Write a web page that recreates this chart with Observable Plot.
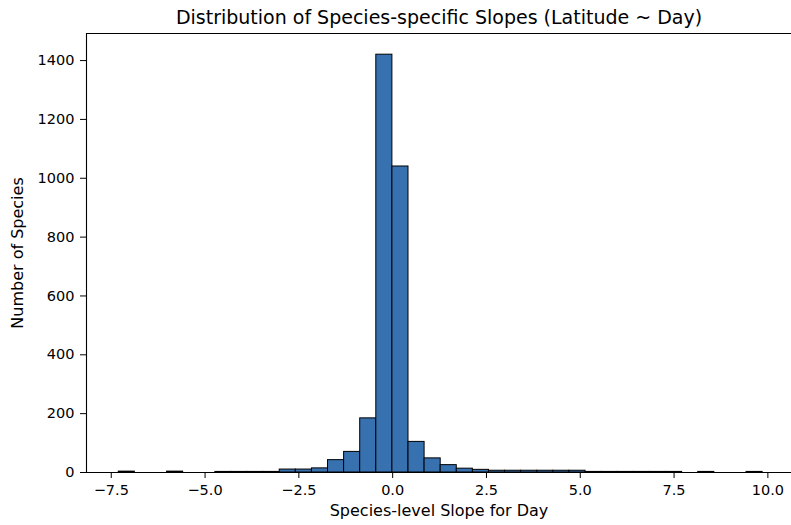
<!DOCTYPE html>
<html>
<head>
<meta charset="utf-8">
<script src="https://cdn.jsdelivr.net/npm/d3@7"></script>
<script src="https://cdn.jsdelivr.net/npm/@observablehq/plot@0.6"></script>
<style>
  html, body { margin: 0; padding: 0; background: #fff; }
  #chart svg { display: block; }
</style>
</head>
<body>
<div id="chart"></div>
<script>
// Histogram: 40 equal bins between data min and max
const dataMin = -7.30;
const dataMax = 9.86;
const counts = [3, 0, 0, 3, 0, 0, 2, 2, 2, 2,
                10, 10, 14, 42, 70, 184, 1420, 1040, 104, 48,
                25, 13, 9, 6, 6, 6, 6, 6, 6, 2,
                2, 2, 2, 2, 2, 0, 2, 0, 0, 2];
const xTicks = [-7.5, -5.0, -2.5, 0.0, 2.5, 5.0, 7.5, 10.0];
const yTicks = [0, 200, 400, 600, 800, 1000, 1200, 1400];
const titleText = "Distribution of Species-specific Slopes (Latitude ~ Day)";
const xLabel = "Species-level Slope for Day";
const yLabel = "Number of Species";

const nBins = counts.length;
const binW = (dataMax - dataMin) / nBins;
const bins = counts.map((c, i) => ({x1: dataMin + i * binW, x2: dataMin + (i + 1) * binW, count: c}));

const xDomain = [-8.16, 10.63];
const yDomain = [0, 1492];
const font = "DejaVu Sans, sans-serif";
const fmt = d => d.toFixed(1).replace("-", "\u2212");

const chart = Plot.plot({
  width: 791,
  height: 525,
  marginLeft: 86,
  marginRight: 0,
  marginTop: 33,
  marginBottom: 53,
  style: {fontFamily: font, fontSize: "14.5px", color: "#000", background: "#fff"},
  x: {domain: xDomain},
  y: {domain: yDomain},
  marks: [
    Plot.rectY(bins, {x1: "x1", x2: "x2", y: "count", fill: "#3871b0", stroke: "#000", strokeWidth: 1}),
    Plot.ruleY([yDomain[0]], {stroke: "#000", strokeWidth: 1.1}),
    Plot.ruleY([yDomain[1]], {stroke: "#000", strokeWidth: 1.1}),
    Plot.ruleX([xDomain[0]], {stroke: "#000", strokeWidth: 1.1}),
    Plot.axisX({ticks: xTicks, tickFormat: fmt, tickSize: 6, tickPadding: 6, fontSize: 14.5, label: null}),
    Plot.axisY({ticks: yTicks, tickFormat: d => String(d), tickSize: 6, tickPadding: 6, fontSize: 14.5, label: null}),
    Plot.text([titleText], {frameAnchor: "top", lineAnchor: "bottom", dy: -10, fontSize: 19, fill: "#000"}),
    Plot.text([xLabel], {frameAnchor: "bottom", lineAnchor: "top", dy: 32, fontSize: 16, fill: "#000"}),
    Plot.text([yLabel], {frameAnchor: "left", textAnchor: "middle", lineAnchor: "middle", rotate: -90, dx: -69, fontSize: 16, fill: "#000"})
  ]
});
document.getElementById("chart").append(chart);
</script>
</body>
</html>
